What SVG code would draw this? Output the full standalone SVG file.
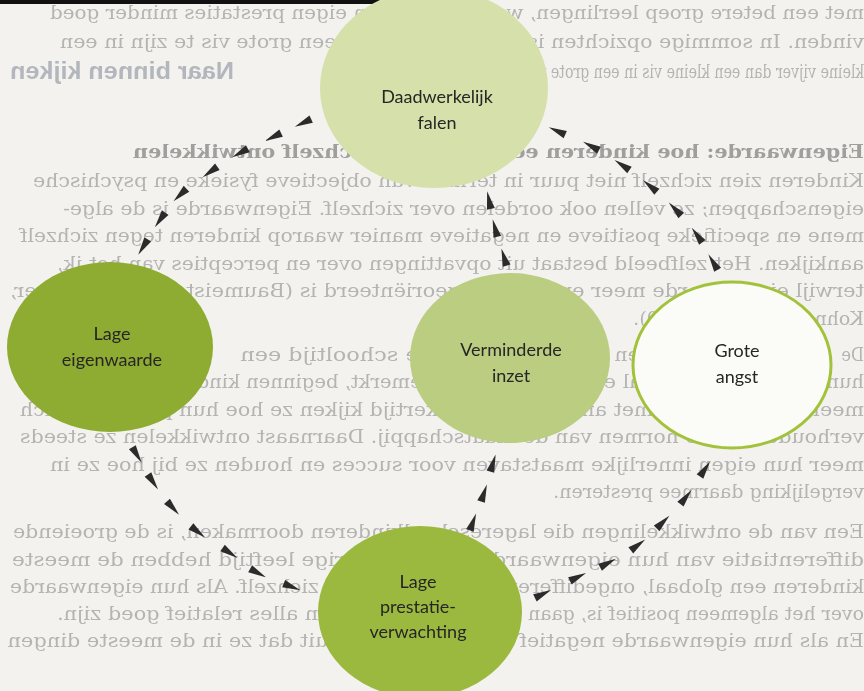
<svg xmlns="http://www.w3.org/2000/svg" xmlns:xlink="http://www.w3.org/1999/xlink" width="864" height="691" viewBox="0 0 864 691">
  <defs>
    <style>
      .pg { font-family: "DejaVu Serif", "Liberation Serif", serif; font-size: 19px; fill: #b4b4b2; }
      .pgb { font-family: "DejaVu Serif", "Liberation Serif", serif; font-size: 19px; font-weight: bold; fill: #9f9f9e; }
      .hdr { font-family: "Liberation Sans", sans-serif; font-size: 24px; font-weight: bold; fill: #b3b7bd; }
      .lbl { font-family: "Lato", "Liberation Sans", sans-serif; font-size: 18px; fill: #262626; text-anchor: middle; }
      .arrow { fill: #2b2b2b; }
    </style>
    <filter id="soft" x="-5%" y="-5%" width="110%" height="110%">
      <feGaussianBlur stdDeviation="0.6"/>
    </filter>
    <!-- arrowhead pointing along +x -->
    <path id="ah" class="arrow" d="M9,0 L-9,-4 L-9,4 Z"/>
  </defs>

  <!-- page -->
  <rect x="0" y="0" width="864" height="691" fill="#f3f2ef"/>
  <rect x="0" y="0" width="465" height="4" fill="#111"/>

  <!-- show-through text from the reverse side of the page (mirrored) -->
  <g id="reverse-page" transform="matrix(-1 0 0 1 864 0)" filter="url(#soft)">
    <text class="pg" x="0" y="19" textLength="814" lengthAdjust="spacingAndGlyphs">met een betere groep leerlingen, waardoor ze hun eigen prestaties minder goed</text>
    <text class="pg" x="0" y="48" textLength="804" lengthAdjust="spacingAndGlyphs">vinden. In sommige opzichten is het dus beter om een grote vis te zijn in een</text>
    <text class="pg" x="0" y="78" transform="scale(0.745 1)">kleine vijver dan een kleine vis in een grote vijver (Marsh &amp; Parker, 1984).</text>
    <text class="hdr" x="630" y="79" textLength="224" lengthAdjust="spacingAndGlyphs">Naar binnen kijken</text>
    <text class="pgb" x="0" y="158" textLength="731" lengthAdjust="spacingAndGlyphs">Eigenwaarde: hoe kinderen een beeld van zichzelf ontwikkelen</text>
    <text class="pg" x="0" y="187" textLength="831" lengthAdjust="spacingAndGlyphs">Kinderen zien zichzelf niet puur in termen van objectieve fysieke en psychische</text>
    <text class="pg" x="0" y="215" textLength="801" lengthAdjust="spacingAndGlyphs">eigenschappen; ze vellen ook oordelen over zichzelf. Eigenwaarde is de alge-</text>
    <text class="pg" x="0" y="242" textLength="844" lengthAdjust="spacingAndGlyphs">mene en specifieke positieve en negatieve manier waarop kinderen tegen zichzelf</text>
    <text class="pg" x="0" y="270" textLength="807" lengthAdjust="spacingAndGlyphs">aankijken. Het zelfbeeld bestaat uit opvattingen over en percepties van het ik,</text>
    <text class="pg" x="0" y="297" textLength="854" lengthAdjust="spacingAndGlyphs">terwijl eigenwaarde meer emotioneel georiënteerd is (Baumeister, 1993; Harter,</text>
    <text class="pg" x="0" y="325">Kohn &amp; Sandlen, 2000).</text>
    <!-- lines crossing the ellipses: only the runs outside the labels -->
    <text class="pg" x="0" y="361" textLength="22.7" lengthAdjust="spacingAndGlyphs">De</text>
    <text class="pg" x="170" y="361" textLength="79.4" lengthAdjust="spacingAndGlyphs">van een</text>
    <text class="pg" x="431" y="361" textLength="192.8" lengthAdjust="spacingAndGlyphs">de schooltijd een</text>
    <text class="pg" x="0" y="388" textLength="43.8" lengthAdjust="spacingAndGlyphs">hun,</text>
    <text class="pg" x="186" y="388" textLength="131.5" lengthAdjust="spacingAndGlyphs">we al eerder</text>
    <text class="pg" x="405.5" y="388" textLength="306.9" lengthAdjust="spacingAndGlyphs">opgemerkt, beginnen kinderen</text>
    <text class="pg" x="0" y="416" textLength="844" lengthAdjust="spacingAndGlyphs">meer te vergelijken met anderen. Tegelijkertijd kijken ze hoe hun prestaties zich</text>
    <text class="pg" x="0" y="443" textLength="844" lengthAdjust="spacingAndGlyphs">verhouden tot de normen van de maatschappij. Daarnaast ontwikkelen ze steeds</text>
    <text class="pg" x="0" y="471" textLength="814" lengthAdjust="spacingAndGlyphs">meer hun eigen innerlijke maatstaven voor succes en houden ze bij hoe ze in</text>
    <text class="pg" x="0" y="498">vergelijking daarmee presteren.</text>
    <text class="pg" x="0" y="538" textLength="851" lengthAdjust="spacingAndGlyphs">Een van de ontwikkelingen die lagereschoolkinderen doormaken, is de groeiende</text>
    <text class="pg" x="0" y="566" textLength="852" lengthAdjust="spacingAndGlyphs">differentiatie van hun eigenwaarde. Op zevenjarige leeftijd hebben de meeste</text>
    <text class="pg" x="0" y="593" textLength="420" lengthAdjust="spacingAndGlyphs">kinderen een globaal, ongedifferentieerd</text>
    <text class="pg" x="502" y="593" textLength="352" lengthAdjust="spacingAndGlyphs">van zichzelf. Als hun eigenwaarde</text>
    <text class="pg" x="0" y="620" textLength="336" lengthAdjust="spacingAndGlyphs">over het algemeen positief is, gaan</text>
    <text class="pg" x="509" y="620" textLength="298" lengthAdjust="spacingAndGlyphs">ze in alles relatief goed zijn.</text>
    <text class="pg" x="0" y="647" textLength="375" lengthAdjust="spacingAndGlyphs">En als hun eigenwaarde negatief is,</text>
    <text class="pg" x="535.5" y="647" textLength="321" lengthAdjust="spacingAndGlyphs">uit dat ze in de meeste dingen</text>
  </g>

  <!-- nodes -->
  <g id="daadwerkelijk-falen">
    <ellipse cx="434" cy="88" rx="114" ry="100" fill="#d6e0aa"/>
    <text class="lbl" x="437" y="103">Daadwerkelijk</text>
    <text class="lbl" x="437" y="129">falen</text>
  </g>
  <g id="lage-eigenwaarde">
    <ellipse cx="110" cy="347" rx="103" ry="85" fill="#8dac31"/>
    <text class="lbl" x="112" y="340">Lage</text>
    <text class="lbl" x="112" y="366">eigenwaarde</text>
  </g>
  <g id="verminderde-inzet">
    <ellipse cx="510" cy="358" rx="100" ry="85" fill="#bacd80"/>
    <text class="lbl" x="511" y="356">Verminderde</text>
    <text class="lbl" x="511" y="382">inzet</text>
  </g>
  <g id="grote-angst">
    <ellipse cx="732" cy="365" rx="99" ry="83" fill="#fbfbf7" stroke="#a3c23c" stroke-width="3"/>
    <text class="lbl" x="737" y="357">Grote</text>
    <text class="lbl" x="737" y="383">angst</text>
  </g>
  <g id="lage-prestatieverwachting">
    <ellipse cx="420" cy="612" rx="102" ry="86" fill="#9bb93e"/>
    <text class="lbl" x="418" y="588">Lage</text>
    <text class="lbl" x="418" y="613">prestatie-</text>
    <text class="lbl" x="418" y="638">verwachting</text>
  </g>

  <!-- connectors: dotted chains of arrowheads -->
  <g id="connectors">
    <!-- falen -> lage eigenwaarde -->
    <use xlink:href="#ah" transform="translate(303 123) rotate(155)"/>
    <use xlink:href="#ah" transform="translate(273 137) rotate(154)"/>
    <use xlink:href="#ah" transform="translate(240 153) rotate(151)"/>
    <use xlink:href="#ah" transform="translate(210 172) rotate(145)"/>
    <use xlink:href="#ah" transform="translate(180 195) rotate(136)"/>
    <use xlink:href="#ah" transform="translate(160 220) rotate(125)"/>
    <use xlink:href="#ah" transform="translate(143 247) rotate(122)"/>
    <!-- lage eigenwaarde -> lage prestatieverwachting -->
    <use xlink:href="#ah" transform="translate(137 455) rotate(59)"/>
    <use xlink:href="#ah" transform="translate(153 482) rotate(56)"/>
    <use xlink:href="#ah" transform="translate(173 508) rotate(48)"/>
    <use xlink:href="#ah" transform="translate(198 532) rotate(38)"/>
    <use xlink:href="#ah" transform="translate(230 553) rotate(34)"/>
    <use xlink:href="#ah" transform="translate(258 573) rotate(29)"/>
    <use xlink:href="#ah" transform="translate(292 587) rotate(22)"/>
    <!-- lage prestatieverwachting -> grote angst -->
    <use xlink:href="#ah" transform="translate(543 594) rotate(-26)"/>
    <use xlink:href="#ah" transform="translate(578 577) rotate(-26)"/>
    <use xlink:href="#ah" transform="translate(608 563) rotate(-28)"/>
    <use xlink:href="#ah" transform="translate(638 545) rotate(-37)"/>
    <use xlink:href="#ah" transform="translate(663 522) rotate(-45)"/>
    <use xlink:href="#ah" transform="translate(686 497) rotate(-52)"/>
    <use xlink:href="#ah" transform="translate(705 469) rotate(-56)"/>
    <!-- lage prestatieverwachting -> verminderde inzet -->
    <use xlink:href="#ah" transform="translate(473 522) rotate(-70)"/>
    <use xlink:href="#ah" transform="translate(484 493) rotate(-71)"/>
    <use xlink:href="#ah" transform="translate(493 463) rotate(-73)"/>
    <!-- verminderde inzet -> falen -->
    <use xlink:href="#ah" transform="translate(504 257) rotate(-107)"/>
    <use xlink:href="#ah" transform="translate(495 228) rotate(-105)"/>
    <use xlink:href="#ah" transform="translate(489 200) rotate(-102)"/>
    <!-- grote angst -> falen -->
    <use xlink:href="#ah" transform="translate(557 131) rotate(-156)"/>
    <use xlink:href="#ah" transform="translate(591 146) rotate(-152)"/>
    <use xlink:href="#ah" transform="translate(622 165) rotate(-146)"/>
    <use xlink:href="#ah" transform="translate(650 186) rotate(-140)"/>
    <use xlink:href="#ah" transform="translate(675 209) rotate(-134)"/>
    <use xlink:href="#ah" transform="translate(697 235) rotate(-126)"/>
    <use xlink:href="#ah" transform="translate(713 262) rotate(-121)"/>
  </g>
</svg>
